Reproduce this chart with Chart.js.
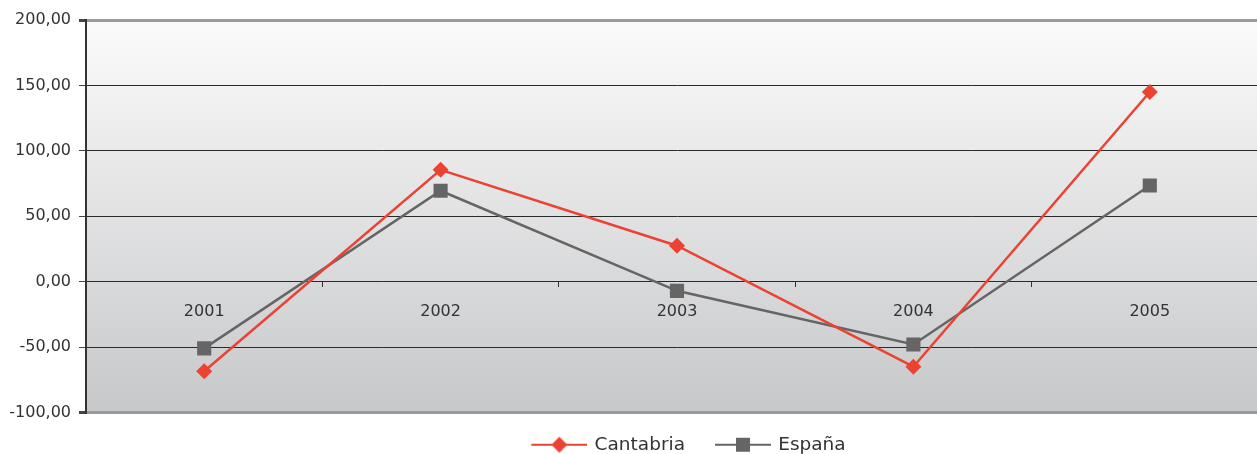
<!DOCTYPE html>
<html>
<head>
<meta charset="utf-8">
<script src="https://cdn.jsdelivr.net/npm/chart.js@4/dist/chart.umd.min.js"></script>
<style>
  html, body { margin: 0; padding: 0; background: #fff; overflow: hidden; }
  #wrap { width: 1278px; height: 454px; position: relative; }
</style>
</head>
<body>
<div id="wrap"><canvas id="chart"></canvas></div>
<script>
// Datos
const years = ['2001', '2002', '2003', '2004', '2005']
const cantabria = [-68.5, 85.5, 27.5, -65, 145]
const espana = [-51, 69.5, -7, -48, 73.5]

const yMin = -100
const yMax = 200
const yStep = 50

const RED = '#ec4231'
const GREY = '#656565'
const FONT = "'DejaVu Sans', sans-serif"

// icono de leyenda: línea con el marcador en el centro (con margen a la izquierda)
function legendIcon(color, style) {
  const c = document.createElement('canvas')
  c.width = 65
  c.height = 18
  const g = c.getContext('2d')
  g.strokeStyle = color
  g.lineWidth = 2
  g.beginPath()
  g.moveTo(9, 9)
  g.lineTo(65, 9)
  g.stroke()
  g.fillStyle = color
  if (style === 'diamond') {
    g.beginPath()
    g.moveTo(37, 1); g.lineTo(45, 9); g.lineTo(37, 17); g.lineTo(29, 9)
    g.closePath()
    g.fill()
  } else {
    g.fillRect(30, 2, 14, 14)
  }
  return c
}

// fondo degradado del área de trazado
const plotBackground = {
  id: 'plotBackground',
  beforeDraw(chart) {
    const { ctx, chartArea: a } = chart
    const grad = ctx.createLinearGradient(0, a.top, 0, a.bottom)
    grad.addColorStop(0, '#fbfbfb')
    grad.addColorStop(1, '#c7c8ca')
    ctx.save()
    ctx.fillStyle = grad
    ctx.fillRect(a.left, a.top, a.right - a.left, a.bottom - a.top)
    ctx.restore()
  }
}

// la leyenda del original no está centrada del todo: la desplazo un poco
const legendShift = {
  id: 'legendShift',
  afterLayout(chart) {
    if (chart.legend) {
      chart.legend.left += 8
      chart.legend.right += 8
    }
  }
}

const icons = [legendIcon(RED, 'diamond'), legendIcon(GREY, 'square')]

new Chart(document.getElementById('chart'), {
  type: 'line',
  data: {
    labels: years,
    datasets: [
      {
        label: 'Cantabria',
        data: cantabria,
        borderColor: RED,
        backgroundColor: RED,
        borderWidth: 2.5,
        pointStyle: 'rectRot',
        pointRadius: 8,
        pointHoverRadius: 8,
        pointBorderWidth: 0,
        tension: 0
      },
      {
        label: 'España',
        data: espana,
        borderColor: GREY,
        backgroundColor: GREY,
        borderWidth: 2.5,
        pointStyle: 'rect',
        pointRadius: 10,
        pointHoverRadius: 10,
        pointBorderWidth: 0,
        tension: 0
      }
    ]
  },
  options: {
    responsive: true,
    maintainAspectRatio: false,
    animation: false,
    layout: { padding: { top: 20, left: 0, right: 0, bottom: -10 } },
    plugins: {
      tooltip: { enabled: false },
      legend: {
        position: 'bottom',
        fullSize: false,
        labels: {
          usePointStyle: true,
          pointStyleWidth: 61,
          padding: 23,
          color: '#333',
          font: { family: FONT, size: 18.5 },
          generateLabels: (chart) => chart.data.datasets.map((ds, i) => ({
            text: ds.label,
            pointStyle: icons[i],
            fillStyle: ds.borderColor,
            strokeStyle: ds.borderColor,
            fontColor: '#333',
            lineWidth: 0,
            datasetIndex: i
          }))
        }
      }
    },
    scales: {
      x: {
        position: { y: 0 },
        offset: true,
        grid: {
          offset: true,
          drawOnChartArea: false,
          drawTicks: true,
          tickLength: 5,
          tickColor: '#333'
        },
        border: { display: false },
        ticks: {
          color: '#333',
          padding: 16,
          font: { family: FONT, size: 16 }
        }
      },
      y: {
        min: yMin,
        max: yMax,
        afterFit: (scale) => { scale.width = 86 },
        ticks: {
          stepSize: yStep,
          color: '#333',
          padding: 8,
          font: { family: FONT, size: 16 },
          callback: (v) => v.toFixed(2).replace('.', ',')
        },
        grid: {
          color: (ctx) => (ctx.tick && (ctx.tick.value === yMax || ctx.tick.value === yMin)) ? '#9b9b9b' : '#2a2a2a',
          lineWidth: (ctx) => (ctx.tick && (ctx.tick.value === yMax || ctx.tick.value === yMin)) ? 3 : 1,
          tickColor: '#444',
          tickLength: 7
        },
        border: { color: '#333', width: 2 }
      }
    }
  },
  plugins: [plotBackground, legendShift]
})
</script>
</body>
</html>
